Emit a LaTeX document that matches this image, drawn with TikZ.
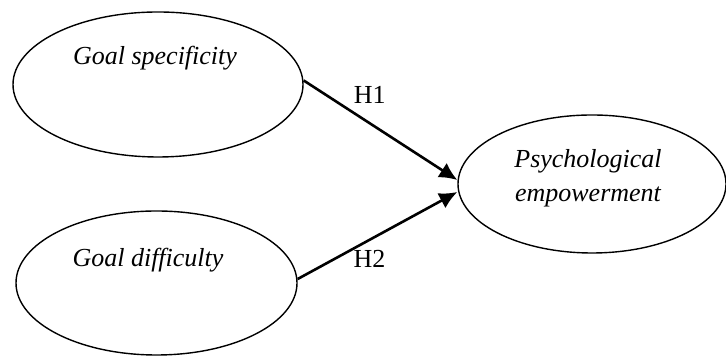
\documentclass[tikz,border=0pt]{standalone}
\usepackage{fontspec}
\setmainfont{Liberation Serif}
\usetikzlibrary{arrows.meta,calc,positioning,shapes.geometric}

\begin{document}
\begin{tikzpicture}[x=0.5pt,y=0.5pt,>={Latex[length=9pt,width=8.5pt]},
		construct/.style={draw,ellipse,line width=0.7pt,inner sep=0pt},
		every node/.style={font=\fontsize{13}{16}\selectfont}]
			\useasboundingbox (0,0) rectangle (726,356);
			\node[construct,minimum width=145pt,minimum height=72.5pt] (spec) at (158,271.5) {};
			\node[font=\fontsize{13}{16}\selectfont\itshape] (spec_t) at (155,298) {Goal specificity};
			\node[construct,minimum width=140.5pt,minimum height=72pt] (diff) at (156.5,73) {};
			\node[font=\fontsize{13}{16}\selectfont\itshape] (diff_t) at (148,96) {Goal difficulty};
			\node[construct,minimum width=134pt,minimum height=69pt] (emp) at (592,172) {};
			\node[font=\fontsize{13}{16}\selectfont\itshape,align=center] (emp_t) at (588,178) {Psychological\\[1pt]empowerment};
			\path[->,line width=1.3pt]
				([yshift=2pt]spec.east) edge node [pos=0.43,above=6pt] {H1} ([yshift=2pt]emp.west)
				([yshift=2pt]diff.east) edge node [pos=0.45,below=1pt] {H2} ([yshift=-4pt]emp.west);
		\end{tikzpicture}
\end{document}
